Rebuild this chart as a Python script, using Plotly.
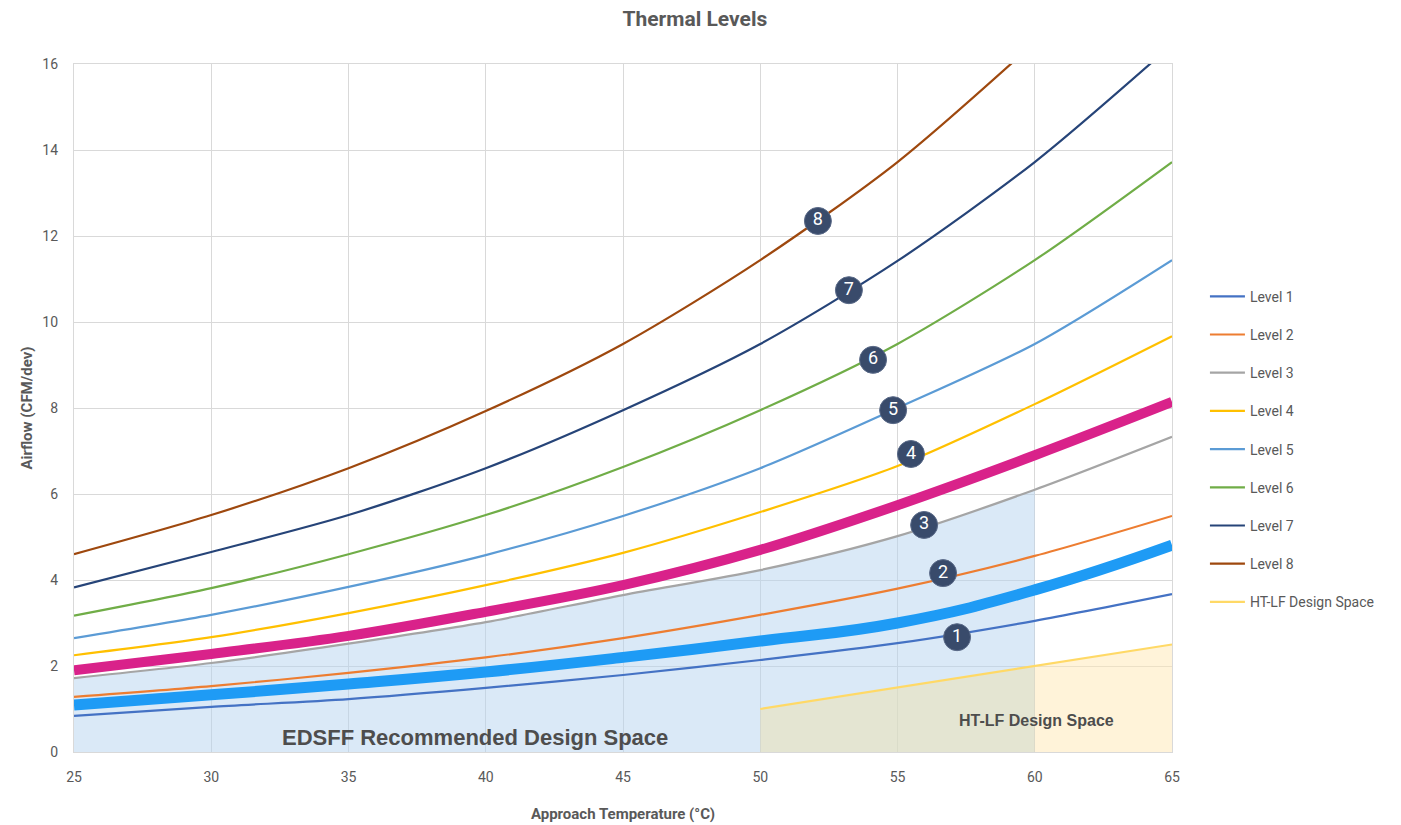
import plotly.graph_objects as go

# Approach temperature (°C) sample points
temps = [25, 30, 35, 40, 45, 50, 55, 60, 65]

# Airflow (CFM/dev) per thermal level
level1 = [0.84, 1.05, 1.23, 1.49, 1.79, 2.14, 2.53, 3.05, 3.67]
level2 = [1.28, 1.53, 1.84, 2.20, 2.65, 3.19, 3.80, 4.56, 5.49]
level3 = [1.72, 2.07, 2.52, 3.02, 3.65, 4.23, 5.02, 6.10, 7.33]
level4 = [2.25, 2.67, 3.23, 3.88, 4.63, 5.58, 6.65, 8.09, 9.67]
level5 = [2.65, 3.19, 3.84, 4.58, 5.49, 6.60, 8.00, 9.49, 11.44]
level6 = [3.17, 3.81, 4.60, 5.51, 6.63, 7.95, 9.49, 11.44, 13.72]
level7 = [3.83, 4.65, 5.51, 6.60, 7.95, 9.49, 11.42, 13.72, 16.45]
level8 = [4.60, 5.51, 6.60, 7.93, 9.49, 11.44, 13.72, 16.50]

# Highlighted envelopes
upper_env = [1.90, 2.28, 2.70, 3.26, 3.88, 4.70, 5.74, 6.90, 8.14]
lower_env = [1.09, 1.33, 1.58, 1.86, 2.20, 2.58, 3.00, 3.77, 4.81]

# HT-LF design space boundary
ht_temps = [50, 55, 60, 65]
ht_vals = [1.0, 1.5, 2.0, 2.5]

# Numbered level badges: (temperature, airflow, label)
badge_t = [57.17, 56.66, 55.97, 55.49, 54.84, 54.11, 53.23, 52.10]
badge_v = [2.67, 4.16, 5.28, 6.93, 7.95, 9.12, 10.74, 12.35]
badge_txt = ["1", "2", "3", "4", "5", "6", "7", "8"]

levels = [level1, level2, level3, level4, level5, level6, level7, level8]
names = [f"Level {i}" for i in range(1, 9)]
colors = ["#4472C4", "#ED7D31", "#A5A5A5", "#FFC000",
          "#5B9BD5", "#70AD47", "#264478", "#9E480E"]

GRAY = "#595959"
NARROW = "Liberation Sans Narrow, Arial Narrow, Roboto, sans-serif"
BOLD = "Liberation Sans, Arial, sans-serif"

fig = go.Figure()

# EDSFF recommended design space: under Level 3 up to 60 °C
n60 = temps.index(60)
fig.add_trace(go.Scatter(
    x=temps[:n60 + 1], y=level3[:n60 + 1], mode="lines",
    line=dict(width=0, shape="spline", smoothing=0.8),
    fill="tozeroy", fillcolor="rgba(181,211,239,0.5)",
    showlegend=False, hoverinfo="skip"))

# HT-LF space where it overlaps the EDSFF space (50–60 °C)
h60 = ht_temps.index(60)
fig.add_trace(go.Scatter(
    x=ht_temps[:h60 + 1], y=ht_vals[:h60 + 1], mode="lines",
    line=dict(width=0), fill="tozeroy",
    fillcolor="rgba(238,225,173,0.5)",
    showlegend=False, hoverinfo="skip"))

# HT-LF space beyond 60 °C
fig.add_trace(go.Scatter(
    x=ht_temps[h60:], y=ht_vals[h60:], mode="lines",
    line=dict(width=0), fill="tozeroy",
    fillcolor="rgba(255,231,179,0.5)",
    showlegend=False, hoverinfo="skip"))

# Level curves
for vals, name, col in zip(levels, names, colors):
    fig.add_trace(go.Scatter(
        x=temps[:len(vals)], y=vals, mode="lines", name=name,
        legendgroup=name,
        line=dict(color=col, width=2.2, shape="spline", smoothing=0.8)))

# HT-LF boundary line
fig.add_trace(go.Scatter(
    x=ht_temps, y=ht_vals, mode="lines", name="HT-LF Design Space",
    legendgroup="htlf",
    line=dict(color="#FFD966", width=2.2)))

# Thick highlight envelopes
fig.add_trace(go.Scatter(
    x=temps, y=upper_env, mode="lines", showlegend=False,
    line=dict(color="#D9228A", width=10, shape="spline", smoothing=1.0)))
fig.add_trace(go.Scatter(
    x=temps, y=lower_env, mode="lines", showlegend=False,
    line=dict(color="#1E9BF5", width=11, shape="spline", smoothing=1.3)))

# Level badges
fig.add_trace(go.Scatter(
    x=badge_t, y=badge_v, mode="markers+text", text=badge_txt,
    textposition="middle center",
    textfont=dict(color="white", size=18, family=NARROW),
    marker=dict(size=27, color="#394B6B",
                line=dict(color="#5A6A88", width=1)),
    showlegend=False, hoverinfo="skip"))

fig.add_annotation(x=39.6, y=0.33, text="<b>EDSFF Recommended Design Space</b>",
                   showarrow=False, font=dict(size=22, color="#4D4D4D", family=BOLD))
fig.add_annotation(x=60.05, y=0.74, text="<b>HT-LF Design Space</b>",
                   showarrow=False, font=dict(size=16, color="#4D4D4D", family=BOLD))

fig.update_layout(
    width=1401, height=825,
    margin=dict(l=74, r=229, t=64, b=73),
    paper_bgcolor="white", plot_bgcolor="white",
    title=dict(text="<b>Thermal Levels</b>", x=0.496, xanchor="center",
               y=0.978, yanchor="middle",
               font=dict(size=21, color=GRAY, family=NARROW)),
    legend=dict(x=1.03, xanchor="left", y=0.685, yanchor="top",
                font=dict(size=14, color=GRAY, family=NARROW),
                tracegroupgap=17, itemwidth=35, bgcolor="rgba(0,0,0,0)"),
    xaxis=dict(range=[25, 65], dtick=5, showgrid=True, gridcolor="#D9D9D9",
               gridwidth=1.3, zeroline=False, showline=True, mirror=True,
               linecolor="#D9D9D9", linewidth=1.3, ticks="",
               automargin=False,
               tickfont=dict(size=14, color=GRAY, family=NARROW),
               ticklabelstandoff=12,
               title=dict(text="<b>Approach Temperature (°C)</b>", standoff=24,
                          font=dict(size=15, color=GRAY, family=NARROW))),
    yaxis=dict(range=[0, 16], dtick=2, showgrid=True, gridcolor="#D9D9D9",
               gridwidth=1.3, zeroline=False, showline=True, mirror=True,
               linecolor="#D9D9D9", linewidth=1.3, ticks="",
               automargin=False,
               tickfont=dict(size=14, color=GRAY, family=NARROW),
               ticklabelstandoff=12,
               title=dict(text="<b>Airflow (CFM/dev)</b>", standoff=6,
                          font=dict(size=15, color=GRAY, family=NARROW))),
)

fig.write_html("out.html")
